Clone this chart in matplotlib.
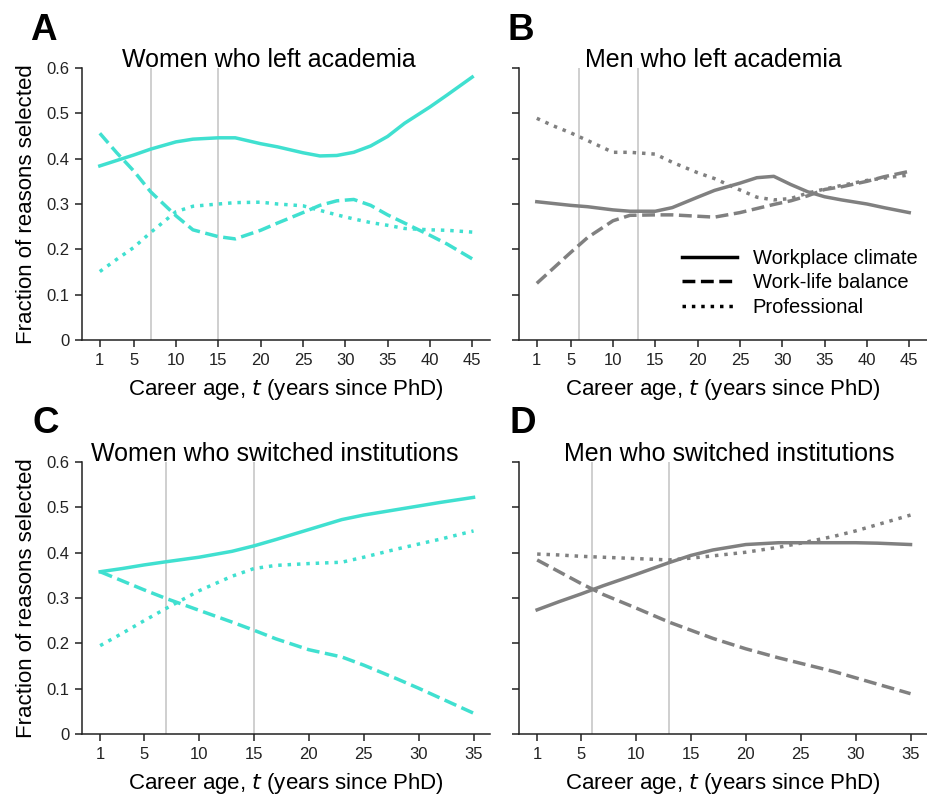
import matplotlib
matplotlib.use("Agg")
import matplotlib.pyplot as plt

plt.rcParams['font.family'] = ['Liberation Sans', 'DejaVu Sans']

TEAL = '#40E0D0'
GREY = '#808080'
VLINE = '#cccccc'
DARK = '#222222'

# career ages (years since PhD) at which the curves are sampled
t_left = [1, 3, 5, 7, 10, 12, 15, 17, 20, 22, 25, 27, 29, 31, 33, 35, 37, 40, 42, 45]
t_switch = [1, 3, 5, 7, 10, 13, 15, 17, 20, 23, 25, 28, 30, 32, 35]

# A: women who left academia
women_left_climate = [0.384, 0.396, 0.408, 0.421, 0.437, 0.443, 0.446, 0.446, 0.433, 0.426,
                      0.413, 0.406, 0.407, 0.414, 0.428, 0.449, 0.478, 0.514, 0.540, 0.580]
women_left_balance = [0.456, 0.413, 0.373, 0.327, 0.274, 0.243, 0.228, 0.223, 0.242, 0.258,
                      0.281, 0.297, 0.307, 0.310, 0.297, 0.276, 0.258, 0.231, 0.212, 0.179]
women_left_prof = [0.151, 0.178, 0.204, 0.237, 0.283, 0.295, 0.300, 0.303, 0.304, 0.300,
                   0.296, 0.286, 0.276, 0.267, 0.259, 0.253, 0.246, 0.243, 0.242, 0.238]

# B: men who left academia
men_left_climate = [0.305, 0.301, 0.297, 0.294, 0.287, 0.284, 0.284, 0.292, 0.315, 0.330,
                    0.346, 0.358, 0.361, 0.343, 0.327, 0.316, 0.309, 0.300, 0.292, 0.281]
men_left_balance = [0.125, 0.159, 0.193, 0.226, 0.263, 0.275, 0.276, 0.276, 0.273, 0.271,
                    0.281, 0.290, 0.299, 0.307, 0.318, 0.332, 0.338, 0.350, 0.360, 0.372]
men_left_prof = [0.489, 0.472, 0.457, 0.440, 0.414, 0.414, 0.410, 0.392, 0.369, 0.356,
                 0.331, 0.315, 0.309, 0.312, 0.324, 0.333, 0.341, 0.352, 0.357, 0.364]

# C: women who switched institutions
women_sw_climate = [0.358, 0.365, 0.373, 0.380, 0.390, 0.403, 0.415, 0.429, 0.451, 0.473,
                    0.483, 0.495, 0.503, 0.511, 0.522]
women_sw_balance = [0.358, 0.338, 0.318, 0.299, 0.273, 0.247, 0.229, 0.210, 0.186, 0.170,
                    0.152, 0.122, 0.101, 0.079, 0.046]
women_sw_prof = [0.195, 0.222, 0.250, 0.277, 0.316, 0.348, 0.365, 0.372, 0.376, 0.379,
                 0.390, 0.408, 0.419, 0.430, 0.448]

# D: men who switched institutions
men_sw_climate = [0.274, 0.292, 0.309, 0.327, 0.352, 0.378, 0.394, 0.406, 0.418, 0.422,
                  0.422, 0.422, 0.422, 0.421, 0.418]
men_sw_balance = [0.384, 0.358, 0.332, 0.308, 0.278, 0.247, 0.229, 0.211, 0.188, 0.168,
                  0.156, 0.138, 0.124, 0.110, 0.089]
men_sw_prof = [0.397, 0.395, 0.392, 0.390, 0.387, 0.384, 0.388, 0.393, 0.401, 0.412,
               0.421, 0.436, 0.448, 0.462, 0.483]

ticks_left = [1, 5, 10, 15, 20, 25, 30, 35, 40, 45]
ticks_switch = [1, 5, 10, 15, 20, 25, 30, 35]
y_ticks = [0, 0.1, 0.2, 0.3, 0.4, 0.5, 0.6]
y_ticklabels = ['0', '0.1', '0.2', '0.3', '0.4', '0.5', '0.6']

reason_labels = ['Workplace climate', 'Work-life balance', 'Professional']
styles = ['-', (0, (3.7, 1.6)), (0, (1, 1.7))]


def draw_panel(ax, t, series, color, vlines, xticks, xlim, title, title_x, show_ylabels):
    for x in vlines:
        ax.axvline(x, color=VLINE, lw=1.3, zorder=1)
    for values, ls in zip(series, styles):
        ax.plot(t, values, color=color, lw=2.5, linestyle=ls, zorder=2)

    ax.set_xlim(*xlim)
    ax.set_ylim(0, 0.6)
    ax.set_xticks(xticks)
    ax.set_yticks(y_ticks)
    if show_ylabels:
        ax.set_yticklabels(y_ticklabels)
        ax.set_ylabel('Fraction of reasons selected', fontsize=16, labelpad=7)
    else:
        ax.set_yticklabels([])
    ax.set_xlabel('Career age, $t$ (years since PhD)', fontsize=16, labelpad=7)
    ax.tick_params(length=5, width=1.1, color=DARK, labelsize=12, labelcolor=DARK, pad=4)
    for side in ['top', 'right']:
        ax.spines[side].set_visible(False)
    for side in ['left', 'bottom']:
        ax.spines[side].set_linewidth(1.1)
        ax.spines[side].set_color(DARK)
    ax.text(title_x, 1.004, title, transform=ax.transAxes, ha='center', va='baseline',
            fontsize=18)


fig = plt.figure(figsize=(9.27, 7.97), dpi=100)
ax_a = fig.add_axes([0.0885, 0.5734, 0.4401, 0.3413])
ax_b = fig.add_axes([0.5599, 0.5734, 0.4401, 0.3413])
ax_c = fig.add_axes([0.0885, 0.0790, 0.4401, 0.3413])
ax_d = fig.add_axes([0.5599, 0.0790, 0.4401, 0.3413])

draw_panel(ax_a, t_left, [women_left_climate, women_left_balance, women_left_prof], TEAL,
           [7, 15], ticks_left, (-1.1, 47.1), 'Women who left academia', 0.458, True)
draw_panel(ax_b, t_left, [men_left_climate, men_left_balance, men_left_prof], GREY,
           [6, 13], ticks_left, (-1.1, 47.1), 'Men who left academia', 0.477, False)
draw_panel(ax_c, t_switch, [women_sw_climate, women_sw_balance, women_sw_prof], TEAL,
           [7, 15], ticks_switch, (-0.65, 36.5), 'Women who switched institutions', 0.473, True)
draw_panel(ax_d, t_switch, [men_sw_climate, men_sw_balance, men_sw_prof], GREY,
           [6, 13], ticks_switch, (-0.65, 36.5), 'Men who switched institutions', 0.515, False)

# legend with neutral black handles
handles = [plt.Line2D([], [], color='black', lw=2.5, linestyle=ls) for ls in styles]
ax_b.legend(handles, reason_labels, loc='upper left', bbox_to_anchor=(0.40, 0.335),
            frameon=False, fontsize=14.5, handlelength=2.7, handletextpad=0.8,
            labelspacing=0.27, borderpad=0, borderaxespad=0)

for letter, x, y in [('A', 30, 40), ('B', 507, 40), ('C', 33, 433), ('D', 509, 433)]:
    fig.text(x / 927, 1 - y / 797, letter, fontsize=26.5, fontweight='bold',
             ha='left', va='baseline')

fig.savefig('out.png', dpi=100)
